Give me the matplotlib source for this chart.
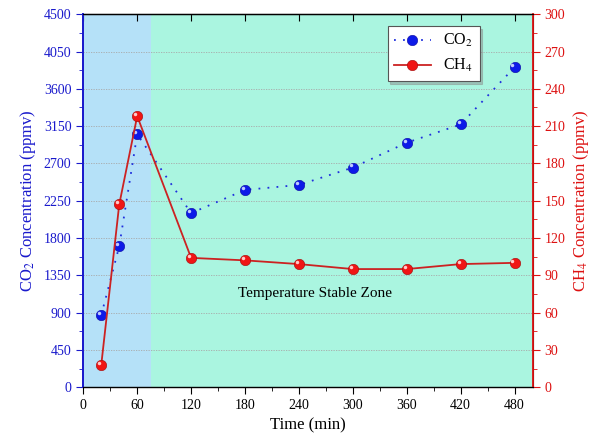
import matplotlib
matplotlib.use("Agg")
import matplotlib.pyplot as plt
from matplotlib.ticker import MultipleLocator
from matplotlib.transforms import offset_copy

plt.rcParams['font.family'] = ['Liberation Serif', 'DejaVu Serif']
plt.rcParams['mathtext.fontset'] = 'stix'

# data
time_min = [20, 40, 60, 120, 180, 240, 300, 360, 420, 480]
co2_ppmv = [870, 1700, 3050, 2100, 2380, 2440, 2650, 2950, 3170, 3860]
ch4_ppmv = [18, 147, 218, 104, 102, 99, 95, 95, 99, 100]

x_ticks = [0, 60, 120, 180, 240, 300, 360, 420, 480]
heating_end = 75

blue = '#1a1acc'
red = '#dd1111'

fig, ax = plt.subplots(figsize=(5.95, 4.44), dpi=100)
fig.subplots_adjust(left=0.14, right=0.895, top=0.968, bottom=0.128)

ax.axvspan(0, heating_end, color='#b5e1f8', zorder=0, lw=0)
ax.axvspan(heating_end, 500, color='#aaf5e0', zorder=0, lw=0)

ax2 = ax.twinx()

l1, = ax.plot(time_min, co2_ppmv, ls=(0, (1, 4)), color='#1f2fdd', lw=1.3,
              marker='o', ms=7.5, mfc='#0d1ae8', mec='#0a0aa0', mew=0.4, label='CO$_2$', zorder=3)
l2, = ax2.plot(time_min, ch4_ppmv, ls='-', color='#cc2222', lw=1.3,
               marker='o', ms=7.5, mfc='#f01515', mec='#a00a0a', mew=0.4, label='CH$_4$', zorder=3)

# small highlights on the spheres, nudged up-left
hl1 = offset_copy(ax.transData, fig=fig, x=-1.5, y=1.5, units='points')
hl2 = offset_copy(ax2.transData, fig=fig, x=-1.5, y=1.5, units='points')
ax.plot(time_min, co2_ppmv, ls='none', marker='o', ms=2.5, mfc='#c0caff', mec='none', zorder=4, transform=hl1)
ax2.plot(time_min, ch4_ppmv, ls='none', marker='o', ms=2.5, mfc='#ffcaca', mec='none', zorder=4, transform=hl2)

ax.set_xlim(0, 500)
ax.set_ylim(0, 4500)
ax2.set_ylim(0, 300)

ax.set_xticks(x_ticks)
ax.xaxis.set_minor_locator(MultipleLocator(30))
ax.yaxis.set_major_locator(MultipleLocator(450))
ax.yaxis.set_minor_locator(MultipleLocator(225))
ax2.yaxis.set_major_locator(MultipleLocator(30))
ax2.yaxis.set_minor_locator(MultipleLocator(15))

ax.yaxis.grid(True, ls=(0, (1.5, 1.5)), color='#a8a8a8', lw=0.6)
ax.set_axisbelow(False)

ax.tick_params(axis='x', which='both', direction='out', labelsize=10, top=False)
ax.tick_params(axis='x', which='major', length=5)
ax.tick_params(axis='x', which='minor', length=3)
ax.tick_params(axis='y', which='both', colors=blue, labelsize=10)
ax.tick_params(axis='y', which='major', length=5)
ax.tick_params(axis='y', which='minor', length=3)
ax2.tick_params(axis='y', which='both', colors=red, labelsize=10)
ax2.tick_params(axis='y', which='major', length=5)
ax2.tick_params(axis='y', which='minor', length=3)

# inward ticks on top spine
sec = ax.secondary_xaxis('top')
sec.set_xticks(x_ticks)
sec.tick_params(direction='in', length=5, labeltop=False)

ax.spines['left'].set_color(blue)
ax.spines['left'].set_linewidth(1.3)
ax2.spines['left'].set_color(blue)
ax2.spines['left'].set_linewidth(1.3)
ax2.spines['right'].set_color(red)
ax2.spines['right'].set_linewidth(1.3)
for s in ['bottom', 'top']:
    ax.spines[s].set_linewidth(1.0)
    ax.spines[s].set_color('#333333')

ax.set_xlabel('Time (min)', fontsize=12)
ax.set_ylabel('CO$_2$ Concentration (ppmv)', fontsize=12, color=blue)
ax2.set_ylabel('CH$_4$ Concentration (ppmv)', fontsize=12, color=red)

ax.text(258, 1134, 'Temperature Stable Zone', fontsize=11, ha='center', va='center')

leg = ax2.legend([l1, l2], ['CO$_2$', 'CH$_4$'], loc='upper right',
                 bbox_to_anchor=(0.9, 0.99), fontsize=11.5, frameon=True,
                 fancybox=False, edgecolor='#555555', handlelength=2.3,
                 shadow={'color': '#888888', 'alpha': 0.45, 'ox': 2, 'oy': -2})
leg.get_frame().set_linewidth(0.8)

fig.savefig('out.png', dpi=100)
